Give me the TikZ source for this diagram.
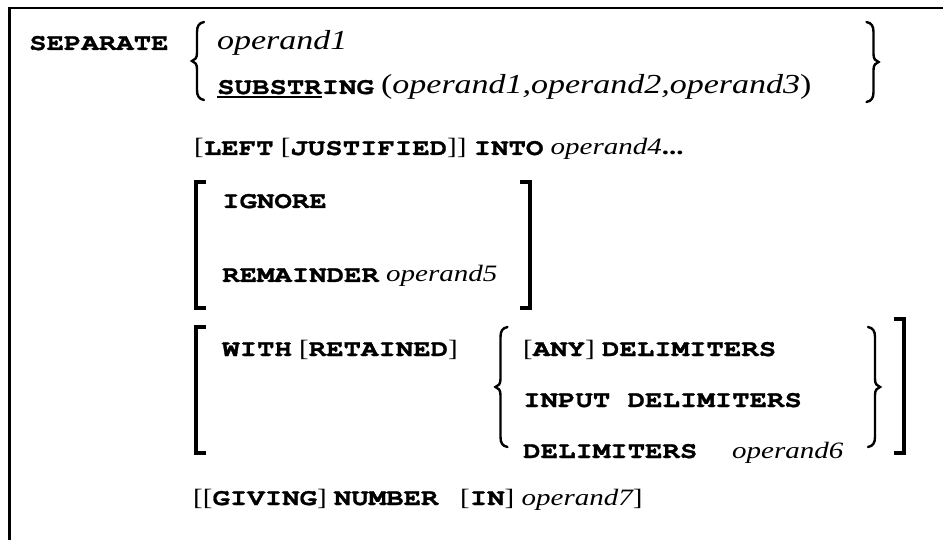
\documentclass[tikz,border=0pt]{standalone}
\usepackage{fontspec}
\setmainfont[FakeStretch=1.235]{Liberation Serif}
\newfontfamily\monofnt[FakeStretch=1.235,BoldFeatures={FakeBold=1.2}]{TeX Gyre Cursor}
\newcommand\kw[1]{{\monofnt\bfseries #1}}
\newcommand\opd[1]{{\itshape #1}}
\newcommand\bigit{\fontsize{27.5}{30}\selectfont}
\newcommand\ulx[1]{\setbox0\hbox{#1}\rlap{\raisebox{-3.6pt}{\rule{\wd0}{1.8pt}}}\box0}
\newcommand\LBrace[3]{%
 \pgfmathsetmacro\ym{(#2+#3)/2}%
 \draw[brc] (#1+7,#2) .. controls (#1+2,#2+1) and (#1,#2+4) .. (#1,#2+10) -- (#1,\ym-8) .. controls (#1,\ym-3) and (#1-2,\ym-1) .. (#1-5,\ym) .. controls (#1-2,\ym+1) and (#1,\ym+3) .. (#1,\ym+8) -- (#1,#3-10) .. controls (#1,#3-4) and (#1+2,#3-1) .. (#1+7,#3);}
\newcommand\RBrace[3]{%
 \pgfmathsetmacro\ym{(#2+#3)/2}%
 \draw[brc] (#1-7,#2) .. controls (#1-2,#2+1) and (#1,#2+4) .. (#1,#2+10) -- (#1,\ym-8) .. controls (#1,\ym-3) and (#1+2,\ym-1) .. (#1+5,\ym) .. controls (#1+2,\ym+1) and (#1,\ym+3) .. (#1,\ym+8) -- (#1,#3-10) .. controls (#1,#3-4) and (#1-2,#3-1) .. (#1-7,#3);}
\newcommand\LBrk[3]{\draw[brk] (#1+10,#2) -- (#1,#2) -- (#1,#3) -- (#1+10,#3);}
\newcommand\RBrk[3]{\draw[brk] (#1-10,#2) -- (#1,#2) -- (#1,#3) -- (#1-10,#3);}
\begin{document}
\begin{tikzpicture}[x=1pt,y=-1pt,
  txt/.style={anchor=base west,inner sep=0pt,font=\fontsize{23.5}{26}\selectfont},
  brk/.style={line width=4pt,line join=miter,line cap=butt},
  brc/.style={line width=2.4pt,line cap=round}]
\useasboundingbox (0,0) rectangle (943,540);
\fill[white] (0,0) rectangle (943,540);
\draw[line width=2.5pt] (9.5,540) -- (9.5,8) -- (943,8);
% texts
\node[txt] (sep) at (29,50) {\kw{SEPARATE}};
\node[txt] (opa) at (217,50) {\bigit\opd{operand1}};
\node[txt] (sub) at (217,94) {\kw{\ulx{SUBSTR}ING} {\bigit(\opd{operand1,operand2,operand3})}};
\node[txt] (left) at (194,155) {[\kw{LEFT} [\kw{JUSTIFIED}]] \kw{INTO} \opd{operand4}\textbf{...}};
\node[txt] (ign) at (222,208) {\kw{IGNORE}};
\node[txt] (rem) at (222,282) {\kw{REMAINDER} \opd{operand5}};
\node[txt] (with) at (222,356) {\kw{WITH} [\kw{RETAINED}]};
\node[txt] (any) at (523,356) {[\kw{ANY}] \kw{DELIMITERS}};
\node[txt] (inp) at (523,407) {\kw{INPUT DELIMITERS}};
\node[txt] (del) at (523,458) {\kw{DELIMITERS}};
\node[txt] (op6) at (732,458) {\opd{operand6}};
\node[txt] (giv) at (193,505) {[[\kw{GIVING}] \kw{NUMBER}};
\node[txt] (in) at (460,505) {[\kw{IN}] \opd{operand7}]};
% braces and brackets
\LBrace{197}{22}{100}
\RBrace{873.5}{22}{102}
\LBrk{195.5}{182}{308}
\RBrk{529.5}{182}{308}
\LBrk{195.5}{327}{453}
\RBrk{904}{319}{453}
\LBrace{500.5}{327}{447}
\RBrace{875}{327}{447}
\end{tikzpicture}
\end{document}
